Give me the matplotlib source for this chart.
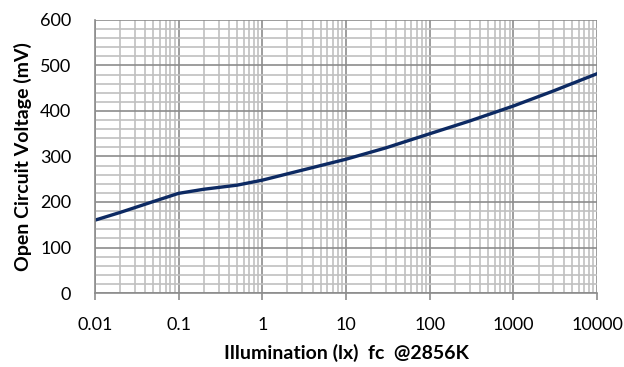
import matplotlib
matplotlib.use("Agg")
import matplotlib.pyplot as plt
from matplotlib.ticker import LogLocator, FixedLocator, MultipleLocator, FuncFormatter

# illumination (lx) vs open circuit voltage (mV)
lux = [0.01, 0.02, 0.05, 0.1, 0.2, 0.5, 1, 3, 10, 30, 100, 300, 1000, 3000, 10000]
voc = [160, 177, 201, 219, 228, 237, 248, 270, 294, 319, 350, 378, 411, 444, 482]

x_ticks = [0.01, 0.1, 1, 10, 100, 1000, 10000]
x_labels = ["0.01", "0.1", "1", "10", "100", "1000", "10000"]

plt.rcParams['font.family'] = ['Lato', 'DejaVu Sans']

fig = plt.figure(figsize=(6.24, 3.67), dpi=100)
ax = fig.add_axes([0.152, 0.2016, 0.805, 0.744])

ax.set_xscale('log')
ax.set_xlim(0.01, 10000)
ax.set_ylim(0, 600)

ax.xaxis.set_major_locator(FixedLocator(x_ticks))
ax.xaxis.set_major_formatter(FuncFormatter(lambda v, p: x_labels[x_ticks.index(v)] if v in x_ticks else ""))
ax.xaxis.set_minor_locator(LogLocator(base=10, subs=range(2, 10), numticks=20))
ax.yaxis.set_major_locator(MultipleLocator(100))
ax.yaxis.set_minor_locator(MultipleLocator(20))

ax.grid(which='major', color='#8c8c8c', linewidth=1.2)
ax.grid(which='minor', color='#c0c0c0', linewidth=1.2)
ax.set_axisbelow(True)

for s in ['top', 'right']:
    ax.spines[s].set_visible(False)
for s in ['left', 'bottom']:
    ax.spines[s].set_color('#8c8c8c')
    ax.spines[s].set_linewidth(1.2)

ax.tick_params(axis='x', which='major', length=5, width=1.2, color='#8c8c8c',
               direction='out', labelsize=13, pad=12)
ax.tick_params(axis='x', which='minor', length=0)
ax.tick_params(axis='y', which='both', length=0, labelsize=13, pad=17)

ax.plot(lux, voc, color='#0d2a63', linewidth=2.4, solid_capstyle='round')

ax.set_xlabel('Illumination (lx)  fc  @2856K', fontsize=14, fontweight='bold', labelpad=8)
ax.set_ylabel('Open Circuit Voltage (mV)', fontsize=14, fontweight='bold', labelpad=6)

fig.savefig('out.png', dpi=100)
